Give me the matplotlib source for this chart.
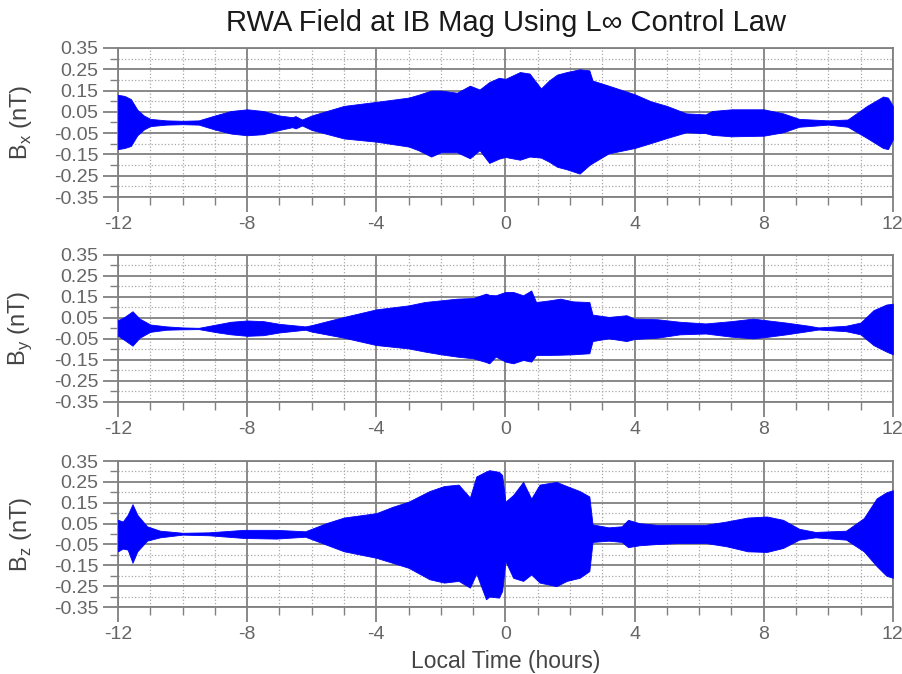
import matplotlib.pyplot as plt
from matplotlib.ticker import MultipleLocator

plt.rcParams['font.family'] = ['Liberation Sans', 'DejaVu Sans']
plt.rcParams['axes.unicode_minus'] = False

# ENVELOPE OF THE RWA FIELD (nT):
bx_hours = [-12.0, -11.8, -11.6, -11.4, -11.2, -11.0, -10.5, -10.0, -9.5, -9.0, -8.5, -8.0, -7.5, -7.0,
            -6.6, -6.5, -6.3, -6.0, -5.0, -4.0, -3.0, -2.7, -2.5, -2.3, -2.0, -1.5, -1.1, -0.8, -0.5,
            -0.2, 0.0, 0.45, 0.75, 1.1, 1.35, 1.6, 1.9, 2.3, 2.6, 2.7, 3.2, 4.0, 4.5, 5.0, 5.6, 6.2,
            6.4, 7.0, 8.0, 8.6, 9.1, 10.0, 10.6, 11.2, 11.7, 11.85, 12.0]
bx_upper = [0.13, 0.125, 0.11, 0.06, 0.033, 0.017, 0.01, 0.008, 0.01, 0.033, 0.054, 0.062, 0.054, 0.033,
            0.025, 0.03, 0.014, 0.033, 0.078, 0.097, 0.117, 0.13, 0.14, 0.15, 0.15, 0.14, 0.173, 0.155, 0.19,
            0.21, 0.205, 0.237, 0.23, 0.16, 0.197, 0.225, 0.237, 0.25, 0.245, 0.197, 0.173, 0.133, 0.1,
            0.078, 0.043, 0.038, 0.054, 0.062, 0.062, 0.043, 0.017, 0.01, 0.014, 0.078, 0.122, 0.117, 0.078]
bx_lower = [-0.125, -0.12, -0.11, -0.06, -0.033, -0.017, -0.01, -0.008, -0.01, -0.033, -0.052, -0.06,
            -0.055, -0.035, -0.022, -0.028, -0.014, -0.035, -0.075, -0.09, -0.113, -0.13, -0.145, -0.16,
            -0.14, -0.14, -0.168, -0.13, -0.19, -0.17, -0.162, -0.175, -0.16, -0.165, -0.184, -0.208,
            -0.22, -0.24, -0.2, -0.19, -0.145, -0.12, -0.097, -0.073, -0.046, -0.05, -0.058, -0.065,
            -0.062, -0.046, -0.02, -0.01, -0.02, -0.073, -0.12, -0.125, -0.08]

by_hours = [-12.0, -11.8, -11.55, -11.33, -11.0, -10.5, -10.0, -9.5, -8.95, -8.5, -8.0, -7.5, -7.0, -6.2,
            -6.0, -5.0, -4.0, -3.0, -2.5, -2.0, -1.5, -1.0, -0.6, -0.5, -0.3, 0.0, 0.24, 0.55, 0.8, 0.95,
            1.37, 1.7, 2.1, 2.6, 2.7, 3.2, 3.75, 4.0, 4.7, 5.4, 6.2, 7.0, 7.67, 8.1, 8.7, 9.4, 9.7, 10.55,
            11.0, 11.4, 11.8, 12.0]
by_upper = [0.04, 0.055, 0.082, 0.047, 0.019, 0.01, 0.005, 0.003, 0.019, 0.032, 0.038, 0.035, 0.022, 0.01,
            0.016, 0.055, 0.091, 0.11, 0.126, 0.134, 0.142, 0.145, 0.166, 0.16, 0.158, 0.174, 0.174, 0.158,
            0.181, 0.126, 0.134, 0.142, 0.129, 0.126, 0.066, 0.055, 0.063, 0.047, 0.044, 0.032, 0.024,
            0.035, 0.047, 0.039, 0.028, 0.013, 0.005, 0.013, 0.028, 0.087, 0.114, 0.118]
by_lower = [-0.035, -0.055, -0.082, -0.044, -0.016, -0.006, -0.004, -0.003, -0.018, -0.028, -0.035, -0.032,
            -0.019, -0.006, -0.015, -0.044, -0.079, -0.095, -0.11, -0.123, -0.134, -0.142, -0.16, -0.166,
            -0.134, -0.158, -0.166, -0.15, -0.158, -0.126, -0.126, -0.125, -0.123, -0.118, -0.06, -0.047,
            -0.06, -0.05, -0.044, -0.028, -0.024, -0.039, -0.047, -0.04, -0.028, -0.012, -0.005, -0.013,
            -0.028, -0.079, -0.11, -0.123]

bz_hours = [-12.0, -11.85, -11.7, -11.55, -11.4, -11.1, -10.7, -10.0, -9.2, -8.1, -7.1, -6.2, -5.55, -5.0,
            -4.0, -3.5, -3.0, -2.35, -1.9, -1.45, -1.1, -0.9, -0.6, -0.5, -0.2, -0.1, 0.0, 0.24, 0.55, 0.8,
            1.06, 1.58, 1.9, 2.3, 2.6, 2.7, 3.2, 3.6, 3.8, 4.15, 4.7, 5.4, 6.2, 6.85, 7.5, 8.1, 8.6, 9.1,
            9.6, 10.55, 11.1, 11.5, 11.8, 12.0]
bz_upper = [0.068, 0.06, 0.092, 0.143, 0.092, 0.037, 0.016, 0.006, 0.008, 0.02, 0.02, 0.013, 0.052, 0.079,
            0.1, 0.13, 0.155, 0.206, 0.23, 0.237, 0.175, 0.276, 0.3, 0.306, 0.298, 0.283, 0.155, 0.187, 0.25,
            0.17, 0.237, 0.25, 0.23, 0.206, 0.18, 0.046, 0.032, 0.037, 0.068, 0.052, 0.044, 0.044, 0.044,
            0.06, 0.079, 0.084, 0.068, 0.025, 0.01, 0.016, 0.076, 0.171, 0.2, 0.21]
bz_lower = [-0.083, -0.07, -0.075, -0.138, -0.083, -0.032, -0.016, -0.003, -0.006, -0.019, -0.022, -0.013,
            -0.051, -0.083, -0.114, -0.138, -0.162, -0.217, -0.233, -0.225, -0.257, -0.19, -0.313, -0.3,
            -0.305, -0.273, -0.13, -0.21, -0.225, -0.194, -0.233, -0.25, -0.225, -0.21, -0.178, -0.038,
            -0.032, -0.038, -0.063, -0.054, -0.048, -0.043, -0.043, -0.059, -0.083, -0.086, -0.067, -0.027,
            -0.016, -0.027, -0.083, -0.154, -0.2, -0.21]

panels = [
    (bx_hours, bx_upper, bx_lower, r'B$_\mathregular{x}$ (nT)', [0.1308, 0.7077, 0.859, 0.2211]),
    (by_hours, by_upper, by_lower, r'B$_\mathregular{y}$ (nT)', [0.1308, 0.4036, 0.859, 0.2181]),
    (bz_hours, bz_upper, bz_lower, r'B$_\mathregular{z}$ (nT)', [0.1308, 0.0994, 0.859, 0.2166]),
]

GRID = '#808080'

fig = plt.figure(figsize=(9.02, 6.74), dpi=100)

for hours, upper, lower, label, rect in panels:
    ax = fig.add_axes(rect)
    ax.fill_between(hours, lower, upper, color='#0000ff', edgecolor='#0000ff', linewidth=0.6, zorder=3)

    ax.set_xlim(-12, 12)
    ax.set_ylim(-0.35, 0.35)
    ax.set_xticks(range(-12, 13, 4))
    ax.xaxis.set_minor_locator(MultipleLocator(1))
    ax.set_yticks([0.35, 0.25, 0.15, 0.05, -0.05, -0.15, -0.25, -0.35])
    ax.set_yticks([0.3, 0.2, 0.1, 0.0, -0.1, -0.2, -0.3], minor=True)

    # solid grid on labelled ticks, dotted grid in between
    ax.set_axisbelow(True)
    ax.grid(which='major', color=GRID, linewidth=1.3, linestyle='-')
    ax.grid(which='minor', color='#a8a8a8', linewidth=0.9, linestyle=':')
    ax.tick_params(which='major', length=11, width=1.3, color=GRID, labelcolor='#666666',
                   labelsize=14, pad=3)
    ax.tick_params(which='minor', length=6, width=1.0, color=GRID)
    for spine in ax.spines.values():
        spine.set_color(GRID)
        spine.set_linewidth(1.3)

    ax.set_ylabel(label, fontsize=17, color='#444444')
    ax.yaxis.set_label_coords(-0.108, 0.5)

ax.set_xlabel('Local Time (hours)', fontsize=16.5, color='#444444', labelpad=5)

fig.text(0.5605, 0.966, 'RWA Field at IB Mag Using L\u221e Control Law', ha='center', va='center',
         fontsize=21, color='#1a1a1a')

plt.savefig('out.png', dpi=100)
